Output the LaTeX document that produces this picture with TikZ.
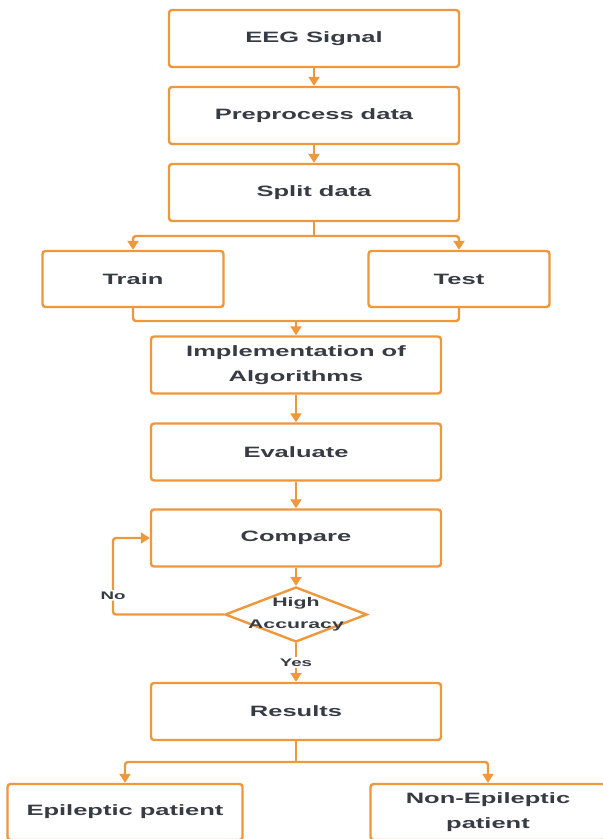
\documentclass[tikz,border=0pt]{standalone}
\usepackage{fontspec}
\setmainfont{Liberation Sans}[FakeStretch=1.7]
\usetikzlibrary{shapes.geometric,arrows.meta}
\definecolor{flowline}{RGB}{238,152,62}
\definecolor{boxtext}{RGB}{55,59,68}

\begin{document}
\begin{tikzpicture}[x=1pt,y=-1pt,
		box/.style={draw=flowline, line width=2.4pt, rounded corners=3pt, fill=white, text=boxtext, font=\fontsize{15}{25}\selectfont\bfseries, align=center, minimum width=290pt, minimum height=57pt, inner sep=0pt},
		smallbox/.style={box, minimum width=181pt, minimum height=56pt},
		endbox/.style={box, minimum width=235pt, minimum height=56pt},
		decision/.style={diamond, draw=flowline, line width=2.4pt, fill=white, minimum width=142pt, minimum height=55pt, inner sep=0pt},
		dtext/.style={text=boxtext, font=\fontsize{12.5}{22}\selectfont\bfseries, align=center, inner sep=0pt},
		line/.style={draw=flowline, line width=2.4pt, rounded corners=3pt},
		flow/.style={line, -{Triangle[width=11pt,length=9pt]}},
		lbl/.style={fill=white, text=boxtext, font=\fontsize{11}{13}\selectfont\bfseries, inner sep=1.5pt}]
		\path[fill=white, use as bounding box] (0,0) rectangle (603,839);
		% boxes
		\node[box] (eeg) at (314,38.5) {EEG Signal};
		\node[box] (prep) at (314,115.5) {Preprocess data};
		\node[box] (split) at (314,192.5) {Split data};
		\node[smallbox] (train) at (133,279) {Train};
		\node[smallbox] (test) at (459,279) {Test};
		\node[box] (impl) at (296,365) {Implementation of\\Algorithms};
		\node[box] (eval) at (296,452) {Evaluate};
		\node[box] (comp) at (296,538) {Compare};
		\node[decision, label={[dtext]center:High\\Accuracy}] (acc) at (296,614.5) {};
		\node[box] (res) at (296,711.5) {Results};
		\node[endbox] (epi) at (125,812) {Epileptic patient};
		\node[endbox] (nonepi) at (488,812) {Non-Epileptic\\patient};
		% joints
		\coordinate (splitjoin) at (314,236);
		\coordinate (mergejoin) at (296,321);
		\coordinate (nocorner) at (113,614.5);
		\coordinate (resjoin) at (296,762);
		% arrows
		\draw[flow] (eeg) -- (prep);
		\draw[flow] (prep) -- (split);
		\draw[line] (split) -- (splitjoin);
		\draw[flow] (splitjoin) -| (train);
		\draw[flow] (splitjoin) -| (test);
		\draw[line] (train) |- (mergejoin) -| (test);
		\draw[flow] (mergejoin) -- (impl);
		\draw[flow] (impl) -- (eval);
		\draw[flow] (eval) -- (comp);
		\draw[flow] (comp) -- (acc);
		\draw[flow] (acc) -- node[lbl]{Yes} (res);
		\draw[flow] (acc.west) -- (nocorner) -- node[lbl, pos=0.25]{No} (nocorner |- comp.west) -- (comp.west);
		\draw[line] (res) -- (resjoin);
		\draw[flow] (resjoin) -| (epi);
		\draw[flow] (resjoin) -| (nonepi);
	\end{tikzpicture}
\end{document}
